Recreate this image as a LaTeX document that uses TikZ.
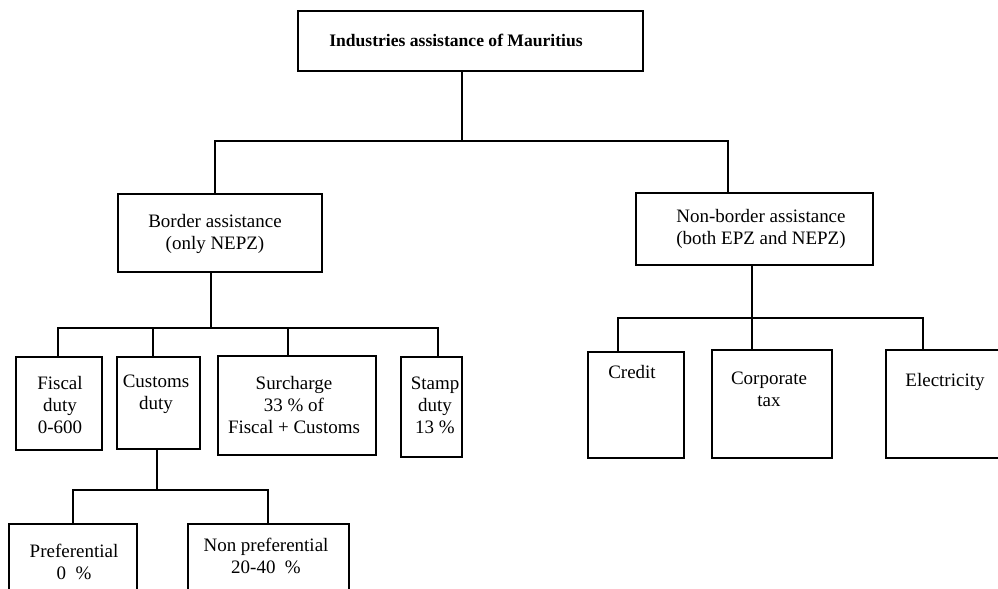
\documentclass[tikz,border=0pt]{standalone}
\usepackage{fontspec}
\setmainfont{Liberation Serif}
\usetikzlibrary{positioning,fit}

\tikzset{
  box/.style={draw, line width=1.2pt, inner sep=0pt},
  txt/.style={align=center, inner sep=0pt, font=\fontsize{13.5}{15.6}\selectfont},
  link/.style={line width=1.2pt}
}

\begin{document}
\begin{tikzpicture}[x=0.25mm, y=-0.25mm]
  \useasboundingbox (0,0) rectangle (998,589);

  % boxes
  \node[box, fit={(298,11) (643,71)}]   (top)       {};
  \node[box, fit={(118,194) (322,272)}] (border)    {};
  \node[box, fit={(636,193) (873,265)}] (nonborder) {};
  \node[box, fit={(16,357) (102,450)}]  (fiscal)    {};
  \node[box, fit={(117,357) (200,449)}] (customs)   {};
  \node[box, fit={(218,356) (376,455)}] (surcharge) {};
  \node[box, fit={(401,357) (462,457)}] (stamp)     {};
  \node[box, fit={(9,524) (137,610)}]   (pref)      {};
  \node[box, fit={(188,524) (349,610)}] (nonpref)   {};
  \node[box, fit={(588,352) (684,458)}] (credit)    {};
  \node[box, fit={(712,350) (832,458)}] (corporate) {};
  \node[box, fit={(886,350) (1010,458)}] (electric) {};

  % texts
  \node[txt, font=\fontsize{12.5}{15}\selectfont\bfseries] (ttop) at (456,40) {Industries assistance of Mauritius};
  \node[txt] (tborder)    at (215,234) {Border assistance\\(only NEPZ)};
  \node[txt] (tnonborder) at (761,229) {Non-border assistance\\(both EPZ and NEPZ)};
  \node[txt] (tfiscal)    at (60,405)  {Fiscal\\duty\\0-600};
  \node[txt] (tcustoms)   at (156,394) {Customs\\duty};
  \node[txt] (tsurcharge) at (294,405) {Surcharge\\33 \% of\\Fiscal + Customs};
  \node[txt] (tstamp)     at (435,405) {Stamp\\duty\\13 \%};
  \node[txt] (tpref)      at (74,562)  {Preferential\\0~~\%};
  \node[txt] (tnonpref)   at (266,556) {Non preferential\\20-40~~\%};
  \node[txt] (tcredit)    at (632,372) {Credit};
  \node[txt] (tcorporate) at (769,389) {Corporate\\tax};
  \node[txt] (telectric)  at (945,382) {Electricity};

  % junctions
  \coordinate (j0) at (462,141);
  \coordinate (j1) at (215,141);
  \coordinate (j2) at (728,141);
  \coordinate (k0) at (211,328);
  \coordinate (k1) at (58,328);
  \coordinate (k2) at (153,328);
  \coordinate (k3) at (288,328);
  \coordinate (k4) at (438,328);
  \coordinate (m0) at (157,490);
  \coordinate (m1) at (73,490);
  \coordinate (m2) at (268,490);
  \coordinate (n0) at (752,318);
  \coordinate (n1) at (618,318);
  \coordinate (n2) at (923,318);

  % connectors
  \draw[link] (top.south -| j0) -- (j0);
  \draw[link] (border.north -| j1) -- (j1) -- (j2) -- (nonborder.north -| j2);

  \draw[link] (border.south -| k0) -- (k0);
  \draw[link] (fiscal.north -| k1) -- (k1) -- (k4) -- (stamp.north -| k4);
  \draw[link] (k2) -- (customs.north -| k2);
  \draw[link] (k3) -- (surcharge.north -| k3);

  \draw[link] (customs.south -| m0) -- (m0);
  \draw[link] (pref.north -| m1) -- (m1) -- (m2) -- (nonpref.north -| m2);

  \draw[link] (nonborder.south -| n0) -- (n0);
  \draw[link] (credit.north -| n1) -- (n1) -- (n2) -- (electric.north -| n2);
  \draw[link] (n0) -- (corporate.north -| n0);
\end{tikzpicture}
\end{document}
